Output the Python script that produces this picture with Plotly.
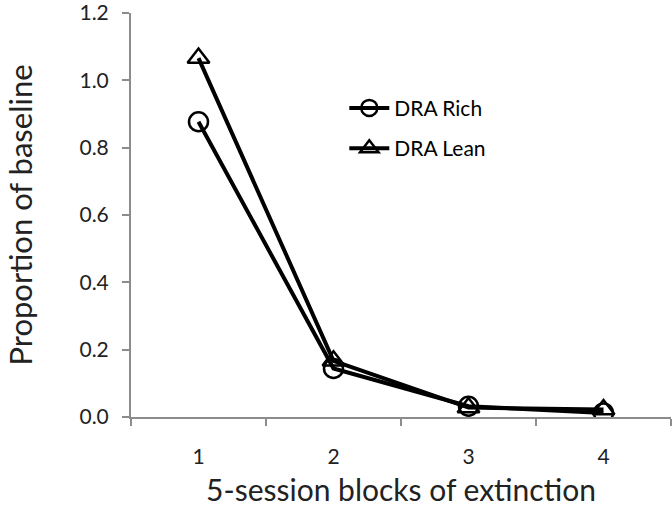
import plotly.graph_objects as go

blocks = [1, 2, 3, 4]
rich = [0.877, 0.144, 0.032, 0.012]
lean = [1.066, 0.167, 0.028, 0.022]
y_ticks = [0.0, 0.2, 0.4, 0.6, 0.8, 1.0, 1.2]

font = "Lato, 'Open Sans', sans-serif"

fig = go.Figure()
fig.add_trace(go.Scatter(
    x=blocks, y=rich, name="DRA Rich", mode="lines+markers", legendgroup="rich",
    line=dict(color="black", width=4),
    marker=dict(symbol="circle-open", size=19, color="black", line=dict(width=2.5)),
))
fig.add_trace(go.Scatter(
    x=blocks, y=lean, name="DRA Lean", mode="lines+markers", legendgroup="lean",
    line=dict(color="black", width=4),
    marker=dict(symbol="triangle-up-open", size=19, color="black", line=dict(width=2.5)),
))

fig.update_layout(
    width=672, height=518,
    margin=dict(l=131, r=1, t=13, b=101),
    paper_bgcolor="white", plot_bgcolor="white",
    font=dict(family=font, color="#222"),
    showlegend=True,
    legend=dict(x=0.395, y=0.815, xanchor="left", yanchor="top",
                font=dict(size=21, color="black"), bgcolor="rgba(0,0,0,0)",
                itemwidth=40, tracegroupgap=10),
)
fig.update_xaxes(
    type="category", range=[-0.5, 3.5], automargin=False,
    tickvals=blocks, ticktext=[str(b) for b in blocks],
    showline=True, linecolor="#8c8c8c", linewidth=2,
    ticks="outside", tickson="boundaries", ticklen=7, tickcolor="#8c8c8c", tickwidth=2,
    ticklabelstandoff=20,
    showgrid=False, zeroline=False,
    tickfont=dict(size=21, color="#222"),
    title=dict(text="5-session blocks of extinction", font=dict(size=30, color="#222"), standoff=13),
)
fig.update_yaxes(
    range=[0, 1.2], automargin=False, tickvals=y_ticks, ticktext=[f"{v:.1f}" for v in y_ticks],
    showline=True, linecolor="#8c8c8c", linewidth=2,
    ticks="outside", ticklen=7, tickcolor="#8c8c8c", tickwidth=2,
    ticklabelstandoff=9, ticklabeloverflow="allow",
    showgrid=False, zeroline=False,
    tickfont=dict(size=21, color="#222"),
    title=dict(text="Proportion of baseline", font=dict(size=31, color="#222"), standoff=38),
)

# page has a default 8px body margin; drop it so the figure fills the window
fig.write_html("out.html", config={"displayModeBar": False},
               post_script="document.body.style.margin='0';")
